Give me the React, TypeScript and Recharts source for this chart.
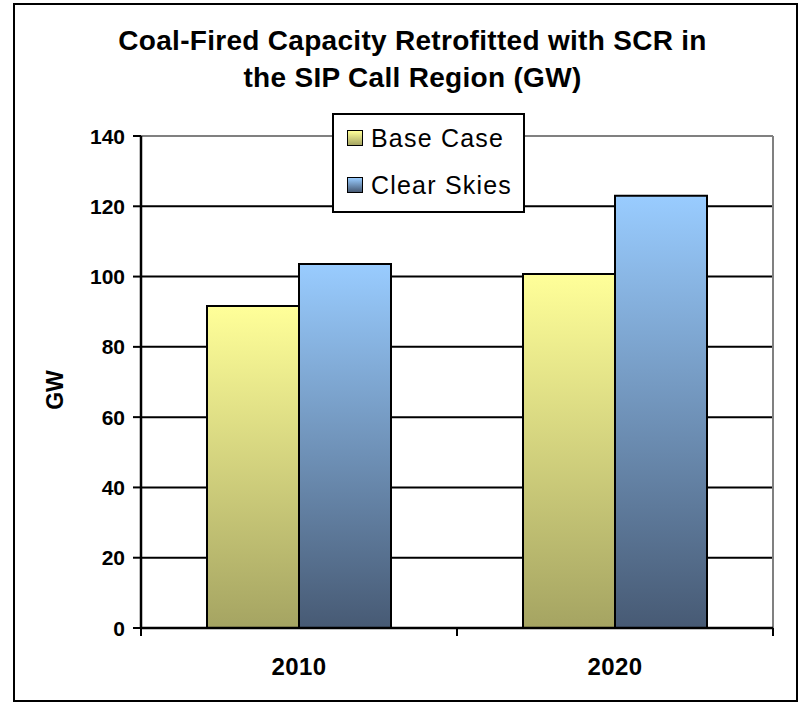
import React from 'react';
import { BarChart, Bar, XAxis, YAxis, CartesianGrid, Legend, Label } from 'recharts';

const categories = ['2010', '2020'];
const baseCase = [91.6, 100.7];
const clearSkies = [103.6, 123.0];
const yTicks = [0, 20, 40, 60, 80, 100, 120, 140];
const seriesNames = ['Base Case', 'Clear Skies'];
const titleLines = ['Coal-Fired Capacity Retrofitted with SCR in', 'the SIP Call Region (GW)'];
const yAxisTitle = 'GW';

const data = categories.map((c, i) => ({ year: c, base: baseCase[i], clear: clearSkies[i] }));

const FONT = '"Liberation Sans", Arial, Helvetica, sans-serif';
const X_TICK_SIZE = 8;
const X_TICK_MARGIN = 22;

const gradients = [
  { id: 'gBase', top: '#FFFF99', bottom: '#A5A462' },
  { id: 'gClear', top: '#99CCFF', bottom: '#475A74' },
];

const XTick = (props: any) => {
  const { x, y, payload } = props;
  const half = payload && typeof payload.offset === 'number' && payload.offset > 0 ? payload.offset : 158;
  const y0 = y - X_TICK_MARGIN - X_TICK_SIZE;
  return (
    <g>
      <line x1={x - half} x2={x - half} y1={y0} y2={y0 + X_TICK_SIZE} stroke="#000" strokeWidth={2} />
      <line x1={x + half} x2={x + half} y1={y0} y2={y0 + X_TICK_SIZE} stroke="#000" strokeWidth={2} />
      <text x={x} y={y} dy="0.71em" textAnchor="middle" style={{ fontFamily: FONT, fontWeight: 'bold', fontSize: 24, letterSpacing: 0.4 }} fill="#000">
        {payload.value}
      </text>
    </g>
  );
};

const YTick = (props: any) => {
  const { x, y, payload } = props;
  return (
    <text x={x} y={y} dy="0.36em" textAnchor="end" style={{ fontFamily: FONT, fontWeight: 'bold', fontSize: 21 }} fill="#000">
      {payload.value}
    </text>
  );
};

const LegendBox = () => (
  <div
    style={{
      width: 193,
      height: 100,
      boxSizing: 'border-box',
      border: '2px solid #000',
      background: '#fff',
      position: 'relative',
      fontFamily: FONT,
    }}
  >
    {seriesNames.map((n, i) => (
      <div
        key={n}
        style={{ position: 'absolute', left: 13, top: i === 0 ? 10 : 57, height: 26, display: 'flex', alignItems: 'center' }}
      >
        <span
          style={{
            display: 'inline-block',
            width: 14,
            height: 14,
            border: '1.5px solid #000',
            background: `linear-gradient(${gradients[i].top}, ${gradients[i].bottom})`,
          }}
        />
        <span style={{ marginLeft: 8, fontSize: 25, letterSpacing: 1.2, color: '#000', whiteSpace: 'nowrap' }}>{n}</span>
      </div>
    ))}
  </div>
);

export default function App() {
  return (
    <div style={{ position: 'absolute', left: 0, top: 0, width: 810, height: 704, background: '#fff', fontFamily: FONT }}>
      <div
        style={{
          position: 'absolute',
          left: 13,
          top: 3,
          width: 785,
          height: 699,
          boxSizing: 'border-box',
          border: '2px solid #000',
        }}
      />
      <div
        style={{
          position: 'absolute',
          left: 0,
          width: 825,
          top: 22,
          textAlign: 'center',
          fontSize: 28,
          fontWeight: 'bold',
          lineHeight: '37px',
          letterSpacing: 0.3,
          color: '#000',
        }}
      >
        {titleLines.map((l) => (
          <div key={l}>{l}</div>
        ))}
      </div>
      <div style={{ position: 'absolute', left: 0, top: 0 }}>
        <BarChart
          width={810}
          height={704}
          data={data}
          margin={{ top: 136, right: 37, left: 0, bottom: 0 }}
          barCategoryGap={66}
          barGap={0}
        >
          <defs>
            {gradients.map((g) => (
              <linearGradient key={g.id} id={g.id} x1="0" y1="0" x2="0" y2="1">
                <stop offset="0%" stopColor={g.top} />
                <stop offset="100%" stopColor={g.bottom} />
              </linearGradient>
            ))}
          </defs>
          <CartesianGrid vertical={false} stroke="#000" strokeWidth={2} />
          <CartesianGrid
            stroke="#808080"
            strokeWidth={2}
            horizontalCoordinatesGenerator={(a: any) => [a.offset.top]}
            verticalCoordinatesGenerator={(a: any) => [a.offset.left + a.offset.width]}
          />
          <XAxis
            dataKey="year"
            height={76}
            tickSize={X_TICK_SIZE}
            tickMargin={X_TICK_MARGIN}
            tickLine={false}
            axisLine={{ stroke: '#000', strokeWidth: 2.5 }}
            tick={<XTick />}
            interval={0}
          />
          <YAxis
            width={141}
            domain={[0, 140]}
            ticks={yTicks}
            interval={0}
            tickSize={8}
            tickMargin={8}
            axisLine={{ stroke: '#000', strokeWidth: 2.5 }}
            tickLine={{ stroke: '#000', strokeWidth: 2 }}
            tick={<YTick />}
          >
            <Label
              content={(p: any) => {
                const vb = p.viewBox || { y: 136, height: 492 };
                const cy = vb.y + vb.height / 2 + 8;
                return (
                  <text
                    x={63}
                    y={cy}
                    transform={`rotate(-90 63 ${cy})`}
                    textAnchor="middle"
                    style={{ fontFamily: FONT, fontWeight: 'bold', fontSize: 23 }}
                    fill="#000"
                  >
                    {yAxisTitle}
                  </text>
                );
              }}
            />
          </YAxis>
          <Legend
            layout="vertical"
            align="center"
            verticalAlign="middle"
            content={() => <LegendBox />}
            wrapperStyle={{ position: 'absolute', left: 332, top: 113, width: 193, height: 100 }}
          />
          <Bar dataKey="base" name={seriesNames[0]} fill="url(#gBase)" stroke="#000" strokeWidth={2} isAnimationActive={false} />
          <Bar dataKey="clear" name={seriesNames[1]} fill="url(#gClear)" stroke="#000" strokeWidth={2} isAnimationActive={false} />
        </BarChart>
      </div>
    </div>
  );
}
